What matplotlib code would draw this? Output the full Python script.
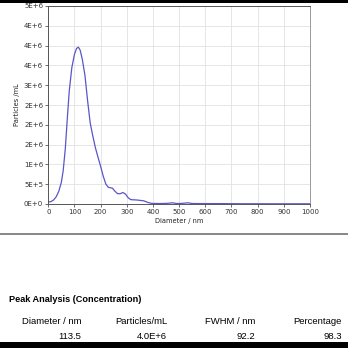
import matplotlib
matplotlib.use("Agg")
import matplotlib.pyplot as plt
from matplotlib.ticker import FixedLocator, FuncFormatter
import numpy as np

# size distribution
diameter = [0, 10, 20, 30, 40, 50, 57, 65, 72, 80, 90, 100, 108, 115, 122, 130,
            140, 150, 160, 170, 180, 190, 200, 210, 220, 230, 245, 255, 265, 275,
            285, 295, 305, 315, 340, 365, 380, 395, 420, 450, 475, 490, 510, 533,
            550, 600, 650, 700, 750, 800, 850, 900, 950, 1000]
conc = [5e4, 6e4, 1.0e5, 1.8e5, 3.2e5, 5.5e5, 8.5e5, 1.4e6, 2.1e6, 2.85e6, 3.45e6,
        3.78e6, 3.93e6, 3.96e6, 3.88e6, 3.65e6, 3.25e6, 2.62e6, 2.05e6, 1.72e6,
        1.42e6, 1.18e6, 9.5e5, 7.0e5, 5.0e5, 4.2e5, 4.0e5, 3.2e5, 2.6e5, 2.6e5,
        2.9e5, 2.5e5, 1.6e5, 1.1e5, 1.0e5, 8e4, 4e4, 1.5e4, 1.2e4, 1.5e4, 3e4,
        1.2e4, 1.5e4, 3e4, 1.2e4, 1.0e4, 1.0e4, 8e3, 6e3, 6e3, 5e3, 5e3, 5e3, 5e3]

x_ticks = list(range(0, 1001, 100))
y_ticks = [i * 5e5 for i in range(11)]

peak_cols = ["Diameter / nm", "Particles/mL", "FWHM / nm", "Percentage"]
peak_vals = ["113.5", "4.0E+6", "92.2", "98.3"]

W = 348
fig = plt.figure(figsize=(3.48, 3.48), dpi=100)
fig.patch.set_facecolor("white")

ax = fig.add_axes([48.3 / W, 1 - 204 / W, (310 - 48.3) / W, (204 - 6) / W])
ax.plot(diameter, conc, color="#5a55c8", lw=0.9)
ax.set_xlim(0, 1000)
ax.set_ylim(0, 5e6)
ax.xaxis.set_major_locator(FixedLocator(x_ticks))
ax.yaxis.set_major_locator(FixedLocator(y_ticks))

def sci(v, pos):
    if v == 0:
        return "0E+0"
    e = int(np.floor(np.log10(v)))
    m = round(v / 10 ** e)
    if m >= 10:
        m //= 10; e += 1
    return f"{m}E+{e}"

ax.yaxis.set_major_formatter(FuncFormatter(sci))
ax.grid(True, color="#e2e2e2", lw=0.6)
ax.set_axisbelow(True)
ax.tick_params(labelsize=5, length=2.2, width=0.5, pad=1.5, colors="#333333")
for s in ax.spines.values():
    s.set_linewidth(0.7)
    s.set_color("#555555")
ax.spines["right"].set_color("#999999")
ax.set_xlabel("Diameter / nm", fontsize=4.8, labelpad=2, color="#222222")
ax.set_ylabel("Particles /mL", fontsize=4.8, labelpad=3, color="#222222")

# frame bars and separator
fig.add_artist(plt.Rectangle((0, 1 - 3 / W), 1, 3 / W, transform=fig.transFigure,
                             color="black", lw=0))
fig.add_artist(plt.Rectangle((0, 0), 1, 6 / W, transform=fig.transFigure,
                             color="black", lw=0))
fig.add_artist(plt.Rectangle((0, 1 - 235 / W), 1, 2.5 / W, transform=fig.transFigure,
                             color="#8a8a8a", lw=0))

# peak analysis table
tf = ["Liberation Sans", "DejaVu Sans"]
fig.text(9 / W, 1 - 300 / W, "Peak Analysis (Concentration)", fontsize=6.6,
         fontweight="bold", family=tf, va="center", ha="left")
col_right = [81, 167, 255, 342]
for xr, h, v in zip(col_right, peak_cols, peak_vals):
    fig.text(xr / W, 1 - 322 / W, h, fontsize=6.8, family=tf, va="center", ha="right")
    fig.text(xr / W, 1 - 336.5 / W, v, fontsize=6.8, family=tf, va="center", ha="right")

fig.savefig("out.png", dpi=100)
